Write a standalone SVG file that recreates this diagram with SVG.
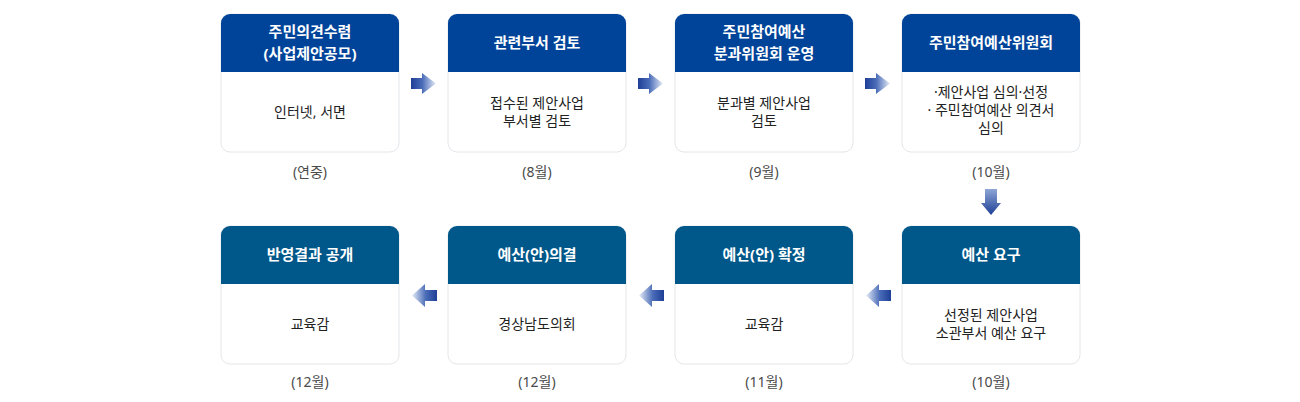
<svg xmlns="http://www.w3.org/2000/svg" width="1300" height="402" viewBox="0 0 1300 402">
<defs>
<style>
.box{fill:#fff;stroke:#e3e6ea;stroke-width:1}
.h1{fill:#00449a}
.h2{fill:#005789}
.ht{font-family:"Noto Sans","Noto Sans CJK KR",sans-serif;font-size:15px;font-weight:bold;fill:#fff;text-anchor:middle}
.bt{font-family:"Noto Sans","Noto Sans CJK KR",sans-serif;font-size:14px;fill:#222;text-anchor:middle}
.mt{font-family:"Noto Sans","Noto Sans CJK KR",sans-serif;font-size:14px;fill:#4a4a4a;text-anchor:middle}
</style>
<linearGradient id="gr" x1="0" y1="0" x2="1" y2="0"><stop offset="0" stop-color="#1e3f96"/><stop offset="0.45" stop-color="#4a6cb8"/><stop offset="1" stop-color="#e4ebf6"/></linearGradient>
<linearGradient id="gl" x1="1" y1="0" x2="0" y2="0"><stop offset="0" stop-color="#1e3f96"/><stop offset="0.45" stop-color="#4a6cb8"/><stop offset="1" stop-color="#e4ebf6"/></linearGradient>
<linearGradient id="gd" x1="0" y1="0" x2="0" y2="1"><stop offset="0" stop-color="#8ea6d6"/><stop offset="1" stop-color="#1e3f96"/></linearGradient>
<clipPath id="c1"><rect x="0" y="0" width="178" height="138" rx="9"/></clipPath>
</defs>

<g id="connectors">
<polygon points="411,78 422,78 422,73 436,83.5 422,94 422,89 411,89" fill="url(#gr)"/>
<polygon points="638,78 649,78 649,73 663,83.5 649,94 649,89 638,89" fill="url(#gr)"/>
<polygon points="865,78 876,78 876,73 890,83.5 876,94 876,89 865,89" fill="url(#gr)"/>
<polygon points="985,189 997,189 997,203 1001,203 991,215 981,203 985,203" fill="url(#gd)"/>
<polygon points="891,290 879,290 879,284 866,295.5 879,307 879,301 891,301" fill="url(#gl)"/>
<polygon points="664,290 652,290 652,284 639,295.5 652,307 652,301 664,301" fill="url(#gl)"/>
<polygon points="437,290 425,290 425,284 412,295.5 425,307 425,301 437,301" fill="url(#gl)"/>
</g>

<g id="n1" transform="translate(221,14)">
<rect class="box" x="0" y="0" width="178" height="138" rx="9"/>
<rect class="h1" x="0" y="0" width="178" height="58" clip-path="url(#c1)"/>
<text class="ht" x="89" y="23">주민의견수렴</text>
<text class="ht" x="89" y="45">(사업제안공모)</text>
<text class="bt" x="89" y="103">인터넷, 서면</text>
<text class="mt" x="89" y="163">(연중)</text>
</g>

<g id="n2" transform="translate(448,14)">
<rect class="box" x="0" y="0" width="178" height="138" rx="9"/>
<rect class="h1" x="0" y="0" width="178" height="58" clip-path="url(#c1)"/>
<text class="ht" x="89" y="34">관련부서 검토</text>
<text class="bt" x="89" y="94">접수된 제안사업</text>
<text class="bt" x="89" y="112">부서별 검토</text>
<text class="mt" x="89" y="163">(8월)</text>
</g>

<g id="n3" transform="translate(675,14)">
<rect class="box" x="0" y="0" width="178" height="138" rx="9"/>
<rect class="h1" x="0" y="0" width="178" height="58" clip-path="url(#c1)"/>
<text class="ht" x="89" y="23">주민참여예산</text>
<text class="ht" x="89" y="45">분과위원회 운영</text>
<text class="bt" x="89" y="94">분과별 제안사업</text>
<text class="bt" x="89" y="112">검토</text>
<text class="mt" x="89" y="163">(9월)</text>
</g>

<g id="n4" transform="translate(902,14)">
<rect class="box" x="0" y="0" width="178" height="138" rx="9"/>
<rect class="h1" x="0" y="0" width="178" height="58" clip-path="url(#c1)"/>
<text class="ht" x="89" y="34">주민참여예산위원회</text>
<text class="bt" x="89" y="83">·제안사업 심의·선정</text>
<text class="bt" x="89" y="101">· 주민참여예산 의견서</text>
<text class="bt" x="89" y="119">심의</text>
<text class="mt" x="89" y="163">(10월)</text>
</g>

<g id="n5" transform="translate(902,226)">
<rect class="box" x="0" y="0" width="178" height="138" rx="9"/>
<rect class="h2" x="0" y="0" width="178" height="58" clip-path="url(#c1)"/>
<text class="ht" x="89" y="34">예산 요구</text>
<text class="bt" x="89" y="94">선정된 제안사업</text>
<text class="bt" x="89" y="112">소관부서 예산 요구</text>
<text class="mt" x="89" y="161">(10월)</text>
</g>

<g id="n6" transform="translate(675,226)">
<rect class="box" x="0" y="0" width="178" height="138" rx="9"/>
<rect class="h2" x="0" y="0" width="178" height="58" clip-path="url(#c1)"/>
<text class="ht" x="89" y="34">예산(안) 확정</text>
<text class="bt" x="89" y="103">교육감</text>
<text class="mt" x="89" y="161">(11월)</text>
</g>

<g id="n7" transform="translate(448,226)">
<rect class="box" x="0" y="0" width="178" height="138" rx="9"/>
<rect class="h2" x="0" y="0" width="178" height="58" clip-path="url(#c1)"/>
<text class="ht" x="89" y="34">예산(안)의결</text>
<text class="bt" x="89" y="103">경상남도의회</text>
<text class="mt" x="89" y="161">(12월)</text>
</g>

<g id="n8" transform="translate(221,226)">
<rect class="box" x="0" y="0" width="178" height="138" rx="9"/>
<rect class="h2" x="0" y="0" width="178" height="58" clip-path="url(#c1)"/>
<text class="ht" x="89" y="34">반영결과 공개</text>
<text class="bt" x="89" y="103">교육감</text>
<text class="mt" x="89" y="161">(12월)</text>
</g>
</svg>
